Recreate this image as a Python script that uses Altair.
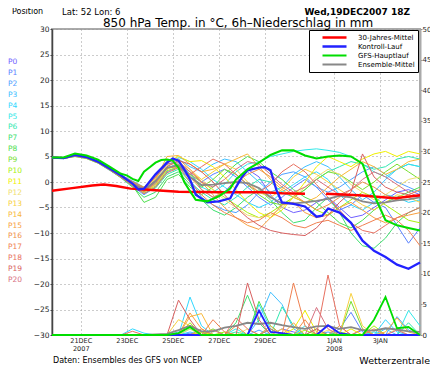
import altair as alt
import pandas as pd

# ---------------- time axis (hours after 19DEC2007 18Z) ----------------
HOURS = [0, 12, 24, 36, 48, 60, 72, 84, 96, 108, 120, 132, 144, 156, 168, 180,
         192, 204, 216, 228, 240, 252, 264, 276, 288, 300, 312, 324, 336, 348,
         360, 372, 384]
TICK_HOURS = [30, 78, 126, 174, 222, 294, 342]
TICK_TOP = ["21DEC", "23DEC", "25DEC", "27DEC", "29DEC", "1JAN", "3JAN"]
TICK_BOTTOM = ["2007", "", "", "", "", "2008", ""]

# ---------------- main series ----------------
SERIES_NAMES = ["30-Jahres-Mittel", "Kontroll-Lauf", "GFS-Hauptlauf", "Ensemble-Mittel"]
SERIES_COLORS = ["#ff0000", "#2222ff", "#00dd00", "#888888"]
SERIES_WIDTHS = [2.5, 1.8, 2.2, 1.8]

CLIM1_H = [0, 21, 42, 54, 67, 82, 108, 132, 180, 221, 240, 264]
CLIM1_T = [-1.7, -1.2, -0.7, -0.5, -0.8, -1.3, -1.6, -1.9, -2.0, -2.0, -2.2, -2.3]
CLIM2_H = [286, 320, 358, 384]
CLIM2_T = [-2.3, -2.6, -3.2, -2.6]

CTRL_H = [0, 12, 24, 36, 48, 60, 72, 84, 90, 96, 108, 120, 126, 132, 138, 144, 150,
          162, 174, 186, 192, 198, 204, 216, 222, 228, 234, 240, 252, 264, 276, 282,
          288, 300, 312, 324, 336, 348, 360, 372, 384]
CTRL_T = [4.8, 4.7, 5.3, 4.9, 4.0, 2.7, 1.3, -0.3, -1.5, -1.3, 1.5, 3.8, 4.6, 4.2,
          2.5, 0.5, -2.5, -4.0, -3.8, -3.2, -1.0, 0.9, 2.3, 2.8, 2.9, 2.3, -1.5,
          -4.0, -4.3, -4.8, -6.8, -6.6, -5.2, -6.0, -8.0, -11.5, -13.5, -14.7,
          -16.2, -17.0, -15.8]

MAIN_H = [0, 12, 24, 36, 48, 60, 72, 78, 84, 90, 96, 102, 108, 114, 120, 126, 132,
          138, 144, 150, 162, 174, 186, 192, 204, 216, 228, 240, 252, 264, 276, 288,
          300, 312, 324, 330, 336, 348, 360, 372, 384]
MAIN_T = [4.8, 4.8, 5.6, 5.2, 4.4, 3.0, 1.6, 1.3, 0.6, 0.2, 2.0, 2.9, 3.8, 4.3, 4.4,
          4.2, 2.8, 0.0, -1.8, -3.5, -3.8, -2.8, -1.3, 0.5, 2.5, 3.8, 5.3, 6.2, 6.2,
          5.2, 4.6, 5.0, 5.2, 5.0, 3.6, 0.5, -2.5, -7.5, -8.5, -9.0, -9.5]

MEAN_T = [4.8, 4.7, 5.2, 4.8, 3.9, 2.6, 1.2, -0.3, -1.5, 0.2, 2.8, 3.3, 1.0, -0.6,
          -0.5, -0.2, 0.0, -0.2, -1.2, -3.0, -4.2, -4.2, -4.0, -3.7, -3.3, -2.7,
          -3.0, -3.8, -4.2, -4.0, -3.6, -3.4, -3.0]

MEAN_R = [0, 0, 0, 0, 0, 0, 0, 0, 0, 0.1, 0.2, 0.8, 1.5, 0.6, 0.6, 1.2, 1.5, 2.0,
          1.8, 2.0, 1.6, 1.3, 1.0, 1.4, 1.5, 1.0, 1.3, 0.8, 0.7, 1.1, 0.9, 0.6, 0.5]
MAIN_R = [0, 0, 0, 0, 0, 0, 0, 0, 0, 0, 0, 0.3, 1.3, 0, 0, 0, 0, 0, 0, 0, 0, 0, 0,
          0, 0, 0, 0, 0, 2.5, 6.2, 1.1, 1.3, 0]
CTRL_R = [0, 0, 0, 0, 0, 0, 0, 0, 0, 0, 0, 0, 0, 0, 0, 0, 0, 0, 4.0, 0.5, 0.3, 0,
          0, 0, 1.6, 0.3, 0, 0, 0, 0, 0, 0, 0]

# ---------------- ensemble members P0..P20 (850 hPa temperature) ----------------
MEMBER_NAMES = ["P%d" % i for i in range(21)]
MEMBER_COLORS = ["#7060ff", "#5a82ff", "#50a0ff", "#40c0ff", "#30d8ff", "#30e8e8",
                 "#30e8b0", "#40e070", "#50e050", "#78e030", "#a8f010", "#f0f000",
                 "#f0e070", "#f8d040", "#f8b838", "#f8a040", "#f09048", "#f08050",
                 "#e87060", "#d86060", "#d87080"]

T_P0 = [4.8, 4.6, 5.1, 4.7, 3.8, 2.4, 1.0, -0.6, -2.0, -0.5, 2.5, 3.8, 2.0, -1.5, -3.0, -2.0, 0.5, 2.5, 1.0, -2.5, -5.0, -6.0, -5.5, -4.0, -3.0, -5.0, -7.0, -6.5, -5.0, -3.5, -2.0, -1.5, -2.5]
T_P1 = [4.9, 4.7, 5.3, 4.9, 4.0, 2.7, 1.3, 0.0, -1.2, 0.8, 3.5, 4.0, 1.5, 0.0, 1.5, 2.5, 1.0, -1.0, -3.0, -4.5, -3.0, -1.0, 0.5, -1.0, -3.5, -5.5, -4.5, -2.5, -4.0, -5.0, -8.5, -12.0, -9.0]
T_P2 = [4.7, 4.6, 5.0, 4.6, 3.7, 2.3, 0.9, -0.8, -2.5, -1.0, 2.0, 3.0, 0.5, -3.0, -4.5, -5.5, -6.0, -4.5, -2.0, 0.0, 1.5, 2.0, 1.0, -1.0, -2.0, -1.0, 0.5, 2.0, 3.0, 1.5, 0.0, -1.0, -2.0]
T_P3 = [4.8, 4.8, 5.4, 5.0, 4.1, 2.8, 1.4, 0.2, -1.0, 1.2, 4.2, 4.5, 3.0, 2.0, 3.5, 4.5, 4.0, 2.0, 0.0, -2.0, -1.0, 1.5, 3.0, 4.0, 3.0, 1.0, -1.5, -3.5, -2.0, 0.5, 2.5, 3.5, 3.0]
T_P4 = [4.8, 4.7, 5.2, 4.8, 3.9, 2.6, 1.3, -0.2, -1.4, 0.3, 3.0, 4.8, 4.0, 2.5, 0.5, -1.0, -2.5, -4.0, -5.0, -4.0, -2.0, -0.5, 1.0, 2.0, 0.5, -2.5, -4.5, -5.5, -4.0, -2.5, -3.0, -4.0, -3.5]
T_P5 = [4.9, 4.8, 5.3, 4.9, 4.0, 2.7, 1.2, -0.4, -1.8, -0.2, 2.8, 3.5, 1.5, -1.0, -2.0, -0.5, 2.0, 3.5, 4.0, 5.0, 5.5, 6.0, 6.3, 6.5, 6.2, 5.8, 5.0, 3.5, 2.0, 1.0, 2.5, 3.5, 3.0]
T_P6 = [4.7, 4.6, 5.1, 4.8, 3.9, 2.5, 1.1, -0.5, -2.2, -1.2, 1.5, 2.5, 0.0, -2.0, -3.5, -4.5, -3.0, -1.0, 0.5, 0.0, -2.0, -3.0, -1.5, 0.5, 2.0, 3.0, 4.0, 3.5, 2.5, 3.0, 4.5, 5.0, 4.5]
T_P7 = [4.8, 4.7, 5.2, 4.8, 3.8, 2.4, 0.8, -1.0, -3.0, -2.0, 1.0, 2.0, -0.5, -3.5, -5.5, -6.5, -5.0, -3.0, -1.5, -3.5, -6.0, -8.0, -7.5, -5.0, -3.0, -6.0, -10.0, -12.5, -13.0, -11.0, -8.0, -6.0, -5.0]
T_P8 = [4.9, 4.8, 5.4, 5.0, 4.0, 2.6, 1.0, -0.7, -4.0, -3.0, 0.5, 1.5, -1.0, -2.5, -1.0, 1.5, 3.5, 5.0, 4.0, 2.0, 0.5, -1.5, -3.0, -4.0, -6.0, -8.0, -9.0, -7.5, -5.5, -4.0, -3.0, -2.0, -1.0]
T_P9 = [4.8, 4.7, 5.2, 4.8, 3.9, 2.6, 1.2, -0.3, -1.6, 0.0, 2.6, 3.2, 1.0, -1.0, 0.5, 2.5, 1.5, -0.5, -2.5, -4.0, -4.5, -3.0, -1.5, 0.5, 2.0, 1.5, 0.0, -1.5, 0.0, 2.0, 3.5, 2.0, 0.5]
T_P10 = [4.7, 4.6, 5.0, 4.6, 3.7, 2.4, 1.0, -0.6, -2.0, -0.8, 2.2, 3.0, 1.5, 0.0, -1.5, -3.0, -4.5, -6.0, -7.0, -6.0, -4.5, -3.0, -4.0, -5.5, -6.5, -5.0, -3.5, -2.0, -3.0, -4.5, -6.0, -7.5, -8.0]
T_P11 = [4.8, 4.8, 5.3, 4.9, 4.0, 2.7, 1.3, 0.0, -1.0, 1.0, 4.0, 5.0, 4.0, 4.2, 3.0, 1.0, -1.5, -4.0, -6.0, -7.0, -5.5, -3.0, 0.0, 3.0, 5.0, 4.0, 3.0, 4.5, 5.5, 6.0, 5.0, 6.0, 5.5]
T_P12 = [4.9, 4.7, 5.2, 4.8, 3.9, 2.6, 1.2, -0.2, -1.3, 0.6, 3.2, 3.8, 2.5, 0.5, -1.5, -3.5, -5.0, -6.5, -7.0, -6.5, -5.0, -3.0, -1.0, 1.0, 2.5, 1.5, -0.5, -2.0, -3.5, -2.5, -1.0, 0.5, 1.0]
T_P13 = [4.8, 4.7, 5.2, 4.8, 3.9, 2.5, 1.0, -0.5, -2.0, -0.5, 2.5, 3.5, 2.0, 0.5, 2.0, 3.5, 2.5, 0.0, -2.0, -3.0, -1.5, 1.0, 2.5, 1.5, 0.0, -1.5, -3.0, -4.5, -5.5, -4.0, -2.5, -3.0, -4.0]
T_P14 = [4.7, 4.6, 5.1, 4.7, 3.8, 2.5, 1.2, -0.4, -1.7, 0.4, 5.0, 5.2, 3.5, 2.0, 2.5, 3.5, 4.5, 5.5, 3.0, 0.5, -1.5, -3.0, -4.0, -3.0, -1.0, 1.0, 2.5, 4.0, 3.0, 1.5, 2.5, 4.0, 4.5]
T_P15 = [4.8, 4.7, 5.2, 4.8, 3.9, 2.6, 1.3, -0.1, -1.2, 0.8, 3.8, 4.5, 2.5, 0.0, -2.5, -5.0, -7.0, -8.5, -9.3, -7.0, -4.5, -4.0, -6.0, -7.0, -6.5, -5.0, -4.0, -5.5, -7.0, -8.0, -7.0, -6.5, -6.0]
T_P16 = [4.9, 4.8, 5.3, 4.9, 4.0, 2.6, 1.1, -0.5, -1.9, -0.3, 2.7, 3.3, 1.0, -1.5, -3.0, -2.0, 0.0, 1.5, 2.5, 1.0, -1.0, -2.5, -4.0, -5.5, -4.5, -3.0, -1.5, 0.0, -1.0, -2.5, -3.5, -2.5, -1.5]
T_P17 = [4.8, 4.7, 5.2, 4.8, 3.9, 2.6, 1.2, -0.3, -1.5, 0.2, 2.8, 3.0, 0.0, -2.5, -4.5, -6.0, -7.0, -8.0, -7.5, -6.0, -7.0, -8.5, -9.0, -8.0, -7.5, -8.5, -9.5, -8.5, -7.5, -6.5, -7.5, -9.5, -12.5]
T_P18 = [4.7, 4.6, 5.1, 4.7, 3.8, 2.4, 0.9, -0.7, -2.3, -1.0, 1.8, 2.8, 1.5, 3.0, 4.5, 3.5, 1.5, -0.5, -2.0, -0.5, 2.0, 3.5, 2.0, -0.5, -3.0, -5.5, -8.0, -9.5, -10.0, -8.5, -7.0, -6.0, -5.0]
T_P19 = [4.8, 4.7, 5.2, 4.8, 3.9, 2.5, 1.1, -0.4, -1.8, 0.0, 3.0, 4.2, 3.5, 2.0, 0.0, -2.5, -5.0, -7.0, -8.5, -9.5, -10.0, -10.3, -10.5, -9.0, -6.5, -4.0, -2.0, 5.5, 1.0, -1.0, -2.0, -2.5, -3.0]
T_P20 = [4.9, 4.8, 5.3, 4.9, 4.0, 2.7, 1.3, 0.1, -1.1, 1.0, 3.5, 4.0, 2.0, 0.0, -1.0, 0.5, 2.5, 4.0, 3.5, 1.5, -0.5, -2.0, -1.0, 0.5, -1.0, -2.5, -1.5, 0.5, 2.0, 1.0, -0.5, -2.0, -3.0]
MEMBERS_T = [T_P0, T_P1, T_P2, T_P3, T_P4, T_P5, T_P6, T_P7, T_P8, T_P9, T_P10,
             T_P11, T_P12, T_P13, T_P14, T_P15, T_P16, T_P17, T_P18, T_P19, T_P20]

# ---------------- ensemble members: 6h precipitation (step index -> mm) ----------------
R_P0 = {13: 0.5, 20: 1.0, 21: 0.5, 27: 0.8}
R_P1 = {12: 0.3, 19: 1.5, 25: 1.0, 26: 3.7, 27: 0.5}
R_P2 = {18: 0.8, 24: 0.5, 30: 3.0, 31: 0.8}
R_P3 = {12: 0.5, 18: 2.5, 19: 7.0, 20: 5.0, 21: 1.0, 29: 1.0}
R_P4 = {7: 1.0, 8: 0.3, 12: 6.2, 13: 1.5, 18: 5.0, 19: 1.0, 29: 2.5, 30: 0.5}
R_P5 = {11: 0.5, 16: 1.0, 22: 1.5, 28: 0.5, 31: 4.0, 32: 1.5}
R_P6 = {12: 1.0, 16: 0.5, 20: 4.6, 21: 1.5, 31: 2.0}
R_P7 = {12: 1.5, 16: 2.0, 17: 6.5, 18: 2.0, 23: 1.0}
R_P8 = {13: 0.5, 18: 5.5, 19: 1.5, 25: 0.5}
R_P9 = {14: 1.0, 19: 1.0, 26: 5.5, 27: 1.0}
R_P10 = {12: 2.0, 15: 0.5, 22: 0.8, 28: 1.5}
R_P11 = {13: 0.5, 21: 1.0, 22: 4.0, 23: 0.5, 26: 1.0}
R_P12 = {12: 1.0, 17: 1.0, 24: 0.8, 30: 1.0}
R_P13 = {11: 2.5, 12: 1.5, 20: 1.0, 26: 6.8, 27: 1.5}
R_P14 = {12: 3.0, 13: 3.5, 19: 1.5, 29: 0.5, 30: 2.8, 31: 0.5}
R_P15 = {12: 3.6, 13: 1.0, 21: 2.0, 25: 1.5}
R_P16 = {13: 1.0, 16: 1.5, 22: 2.5, 27: 1.0}
R_P17 = {14: 2.5, 15: 0.5, 21: 8.5, 22: 1.5, 28: 1.0}
R_P18 = {7: 0.6, 16: 2.8, 17: 1.0, 24: 9.8, 25: 1.5}
R_P19 = {11: 5.7, 12: 2.5, 17: 8.5, 18: 2.5, 23: 1.0}
R_P20 = {14: 0.8, 19: 1.0, 23: 4.5, 24: 1.0, 30: 0.8}
MEMBERS_R = [R_P0, R_P1, R_P2, R_P3, R_P4, R_P5, R_P6, R_P7, R_P8, R_P9, R_P10,
             R_P11, R_P12, R_P13, R_P14, R_P15, R_P16, R_P17, R_P18, R_P19, R_P20]

# ---------------- texts ----------------
TXT_POSITION = "Position"
TXT_LATLON = "Lat: 52 Lon: 6"
TXT_DATE = "Wed,19DEC2007 18Z"
TXT_TITLE = "850 hPa Temp. in \u00b0C, 6h\u2013Niederschlag in mm"
TXT_SOURCE = "Daten: Ensembles des GFS von NCEP"
TXT_BRAND = "Wetterzentrale"
FONT = "DejaVu Sans"

# ---------------- tables ----------------
mt_rows, mr_rows = [], []
for k, name in enumerate(MEMBER_NAMES):
    for i, h in enumerate(HOURS):
        mt_rows.append({"m": name, "col": MEMBER_COLORS[k], "h": h, "t": MEMBERS_T[k][i]})
        mr_rows.append({"m": name, "col": MEMBER_COLORS[k], "h": h, "p": MEMBERS_R[k].get(i, 0.0)})
members_t = pd.DataFrame(mt_rows)
members_r = pd.DataFrame(mr_rows)

main_rows = []
def add(series, seg, hs, ts):
    for h, t in zip(hs, ts):
        main_rows.append({"series": series, "seg": seg, "h": h, "t": t})
add(SERIES_NAMES[3], "mean", HOURS, MEAN_T)
add(SERIES_NAMES[0], "clim1", CLIM1_H, CLIM1_T)
add(SERIES_NAMES[0], "clim2", CLIM2_H, CLIM2_T)
add(SERIES_NAMES[1], "ctrl", CTRL_H, CTRL_T)
add(SERIES_NAMES[2], "main", MAIN_H, MAIN_T)
main_t = pd.DataFrame(main_rows)

rain_rows = []
for series, vals in [(SERIES_NAMES[3], MEAN_R), (SERIES_NAMES[1], CTRL_R), (SERIES_NAMES[2], MAIN_R)]:
    for h, p in zip(HOURS, vals):
        rain_rows.append({"series": series, "h": h, "p": p})
main_r = pd.DataFrame(rain_rows)

labels_df = pd.DataFrame({"name": MEMBER_NAMES, "col": MEMBER_COLORS, "idx": list(range(21))})

# ---------------- encodings ----------------
parts = []
for h, a, b in zip(TICK_HOURS, TICK_TOP, TICK_BOTTOM):
    lab = "['%s', '%s']" % (a, b) if b else "'%s'" % a
    parts.append("datum.value == %s ? %s : " % (h, lab))
label_expr = "".join(parts) + "''"

x_scale = alt.Scale(domain=[0, 384], nice=False, zero=False)
x_axis = alt.Axis(values=TICK_HOURS, labelExpr=label_expr, grid=True, gridDash=[1, 3],
                  gridColor="#999999", ticks=False, domain=False, labelPadding=2,
                  labelFontSize=6.5, labelLineHeight=8, labelBaseline="top",
                  labelFont=FONT, labelColor="#222222", title=None, labelAngle=0,
                  labelFlush=False, labelOverlap=False)
t_scale = alt.Scale(domain=[-30, 30], nice=False, zero=False)
t_axis = alt.Axis(orient="left", values=list(range(-30, 31, 5)), grid=True,
                  gridDash=[1, 3], gridColor="#999999", domainColor="#444444",
                  domainWidth=1.5, tickSize=2, tickColor="#444444", labelPadding=1,
                  labelFontSize=7.5, labelFont=FONT, labelColor="#222222", title=None)
p_scale = alt.Scale(domain=[0, 50], nice=False, zero=False)
p_axis = alt.Axis(orient="right", values=list(range(0, 51, 5)), grid=False,
                  domainColor="#aaaaaa", domainWidth=2, tickSize=2, tickColor="#888888",
                  labelPadding=0, labelFontSize=7, labelFont=FONT, labelColor="#222222",
                  title=None)

legend = alt.Legend(orient="none", legendX=257, legendY=1, title=None,
                    strokeColor="#000000", fillColor="#ffffff", padding=3,
                    symbolType="stroke", symbolSize=576, symbolStrokeWidth=2.5,
                    symbolOffset=9, labelOffset=10, labelFont=FONT, labelFontSize=7,
                    labelColor="#000000", clipHeight=9, rowPadding=0)
color = alt.Color("series:N", scale=alt.Scale(domain=SERIES_NAMES, range=SERIES_COLORS),
                  legend=legend)

members_t_layer = alt.Chart(members_t).mark_line(strokeWidth=1).encode(
    x=alt.X("h:Q", scale=x_scale, axis=x_axis),
    y=alt.Y("t:Q", scale=t_scale, axis=t_axis),
    stroke=alt.Stroke("col:N", scale=None),
    detail="m:N",
)
members_r_layer = alt.Chart(members_r).mark_line(strokeWidth=1).encode(
    x=alt.X("h:Q", scale=x_scale),
    y=alt.Y("p:Q", scale=p_scale, axis=p_axis),
    stroke=alt.Stroke("col:N", scale=None),
    detail="m:N",
)
main_r_layer = alt.Chart(main_r).mark_line(strokeWidth=1.8).encode(
    x=alt.X("h:Q", scale=x_scale),
    y=alt.Y("p:Q", scale=p_scale, axis=None),
    color=color,
    detail="series:N",
)
main_t_layer = alt.Chart(main_t).mark_line().encode(
    x=alt.X("h:Q", scale=x_scale),
    y=alt.Y("t:Q", scale=t_scale, axis=None),
    color=color,
    strokeWidth=alt.StrokeWidth("series:N", scale=alt.Scale(domain=SERIES_NAMES, range=SERIES_WIDTHS), legend=None),
    detail="seg:N",
)
plabels = alt.Chart(labels_df).mark_text(align="left", baseline="middle", font=FONT,
                                          fontSize=7.5).encode(
    x=alt.value(-44),
    y=alt.Y("idx:Q", scale=alt.Scale(domain=[0, 20], range=[33, 251]), axis=None),
    text="name:N",
    fill=alt.Fill("col:N", scale=None),
)

def label(txt, x, y, size, align="left", weight="normal"):
    return alt.Chart(pd.DataFrame({"t": [txt]})).mark_text(
        align=align, baseline="middle", font=FONT, fontSize=size, fontWeight=weight,
        color="#000000").encode(text="t:N", x=alt.value(x), y=alt.value(y))

texts = [
    label(TXT_POSITION, -40, -17.5, 8),
    label(TXT_LATLON, 10, -17.5, 8.5),
    label(TXT_DATE, 358, -17.5, 9, align="right", weight="bold"),
    label(TXT_TITLE, 186, -6.5, 12, align="center"),
    label(TXT_SOURCE, 1, 332, 8),
    label(TXT_BRAND, 378, 332, 9.5, align="right"),
]

chart = alt.layer(members_t_layer, members_r_layer, main_r_layer, main_t_layer,
                  plabels, *texts).resolve_scale(y="independent").properties(
    width=368, height=306,
    padding={"left": 44, "top": 21, "right": 10, "bottom": 30},
    autosize=alt.AutoSizeParams(type="none"),
).configure_view(stroke="#aaaaaa", strokeWidth=2)

chart.save("out.html", embed_options={"renderer": "svg", "actions": False})
